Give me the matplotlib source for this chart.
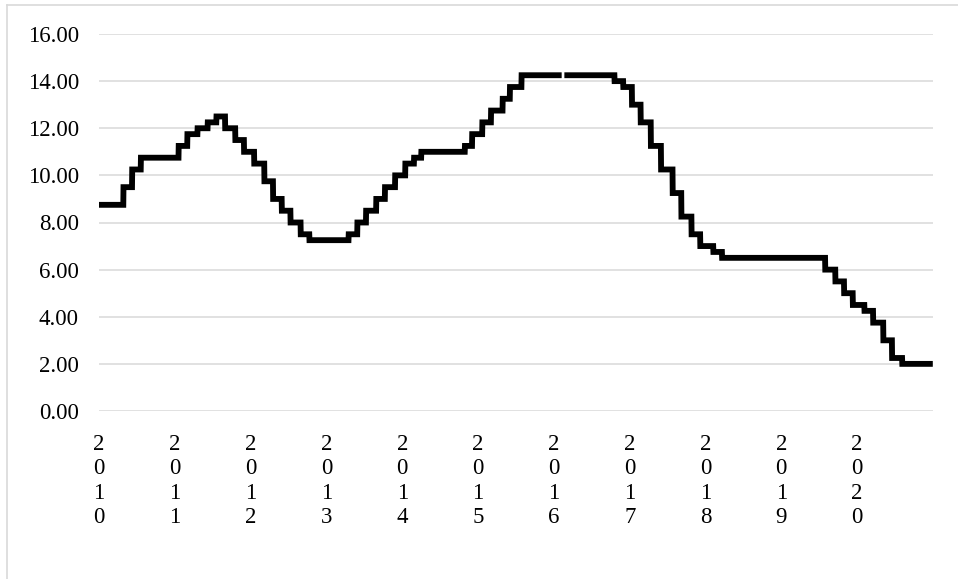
import matplotlib
matplotlib.use("Agg")
import matplotlib.pyplot as plt
from matplotlib.lines import Line2D
import pandas as pd
import numpy as np

# Rate changes (date from which the new value applies) and values
change_dates = ['2010-01-01', '2010-04-29', '2010-06-10', '2010-07-22',
                '2011-01-20', '2011-03-03', '2011-04-21', '2011-06-09', '2011-07-21',
                '2011-09-01', '2011-10-20', '2011-12-01',
                '2012-01-19', '2012-03-08', '2012-04-19', '2012-05-31', '2012-07-12',
                '2012-08-30', '2012-10-11',
                '2013-04-18', '2013-05-30', '2013-07-11', '2013-08-29', '2013-10-10',
                '2013-11-28',
                '2014-01-16', '2014-02-27', '2014-04-03', '2014-10-30', '2014-12-04',
                '2015-01-22', '2015-03-05', '2015-04-30', '2015-06-04', '2015-07-30',
                '2016-10-20', '2016-12-01',
                '2017-01-12', '2017-02-23', '2017-04-13', '2017-06-01', '2017-07-27',
                '2017-09-07', '2017-10-26', '2017-12-07',
                '2018-02-08', '2018-03-22',
                '2019-08-01', '2019-09-19', '2019-10-31', '2019-12-12',
                '2020-02-06', '2020-03-19', '2020-05-07', '2020-06-18', '2020-08-06']
rates = [8.75, 9.50, 10.25, 10.75,
         11.25, 11.75, 12.00, 12.25, 12.50, 12.00, 11.50, 11.00,
         10.50, 9.75, 9.00, 8.50, 8.00, 7.50, 7.25,
         7.50, 8.00, 8.50, 9.00, 9.50, 10.00,
         10.50, 10.75, 11.00, 11.25, 11.75,
         12.25, 12.75, 13.25, 13.75, 14.25,
         14.00, 13.75,
         13.00, 12.25, 11.25, 10.25, 9.25, 8.25, 7.50, 7.00,
         6.75, 6.50,
         6.00, 5.50, 5.00, 4.50,
         4.25, 3.75, 3.00, 2.25, 2.00]
series_end = '2020-12-31'
gap_start, gap_end = '2016-02-09', '2016-02-20'   # missing observations

years = list(range(2010, 2021))
y_ticks = [0, 2, 4, 6, 8, 10, 12, 14, 16]

# daily series
days = pd.date_range(change_dates[0], series_end, freq='D')
s = pd.Series(rates, index=pd.to_datetime(change_dates)).reindex(days).ffill()
s[(s.index >= gap_start) & (s.index <= gap_end)] = np.nan

plt.rcParams['font.family'] = ['Liberation Serif', 'DejaVu Serif']

W, H = 958, 579
fig = plt.figure(figsize=(W / 100, H / 100), dpi=100)
ax = fig.add_axes([99 / W, 1 - 411 / H, (933 - 99) / W, (411 - 34) / H])

ax.plot(s.index, s.values, color='black', lw=4.2,
        solid_joinstyle='miter', solid_capstyle='butt', zorder=3)

ax.set_ylim(0, 16)
ax.set_yticks(y_ticks)
ax.set_yticklabels([f"{v:.2f}" for v in y_ticks])
ax.set_xlim(pd.Timestamp('2010-01-01'), pd.Timestamp('2021-01-01'))
ax.set_xticks([pd.Timestamp(f'{y}-01-01') for y in years])
ax.set_xticklabels(["\n".join(str(y)) for y in years], linespacing=1.22,
                   va='top')

ax.grid(axis='y', color='#d9d9d9', lw=1.1, zorder=0)
ax.grid(axis='x', visible=False)
for sp in ax.spines.values():
    sp.set_visible(False)
ax.tick_params(axis='both', length=0, labelsize=16.5, colors='black')
ax.tick_params(axis='y', pad=14.5)
ax.tick_params(axis='x', pad=16.5)

# chart frame (left and top edges visible)
fig.add_artist(Line2D([7 / W, 7 / W], [0, 1 - 5 / H], transform=fig.transFigure,
                      color='#d9d9d9', lw=1.2))
fig.add_artist(Line2D([7 / W, 1], [1 - 5 / H, 1 - 5 / H], transform=fig.transFigure,
                      color='#d9d9d9', lw=1.2))

fig.savefig('out.png', dpi=100)
